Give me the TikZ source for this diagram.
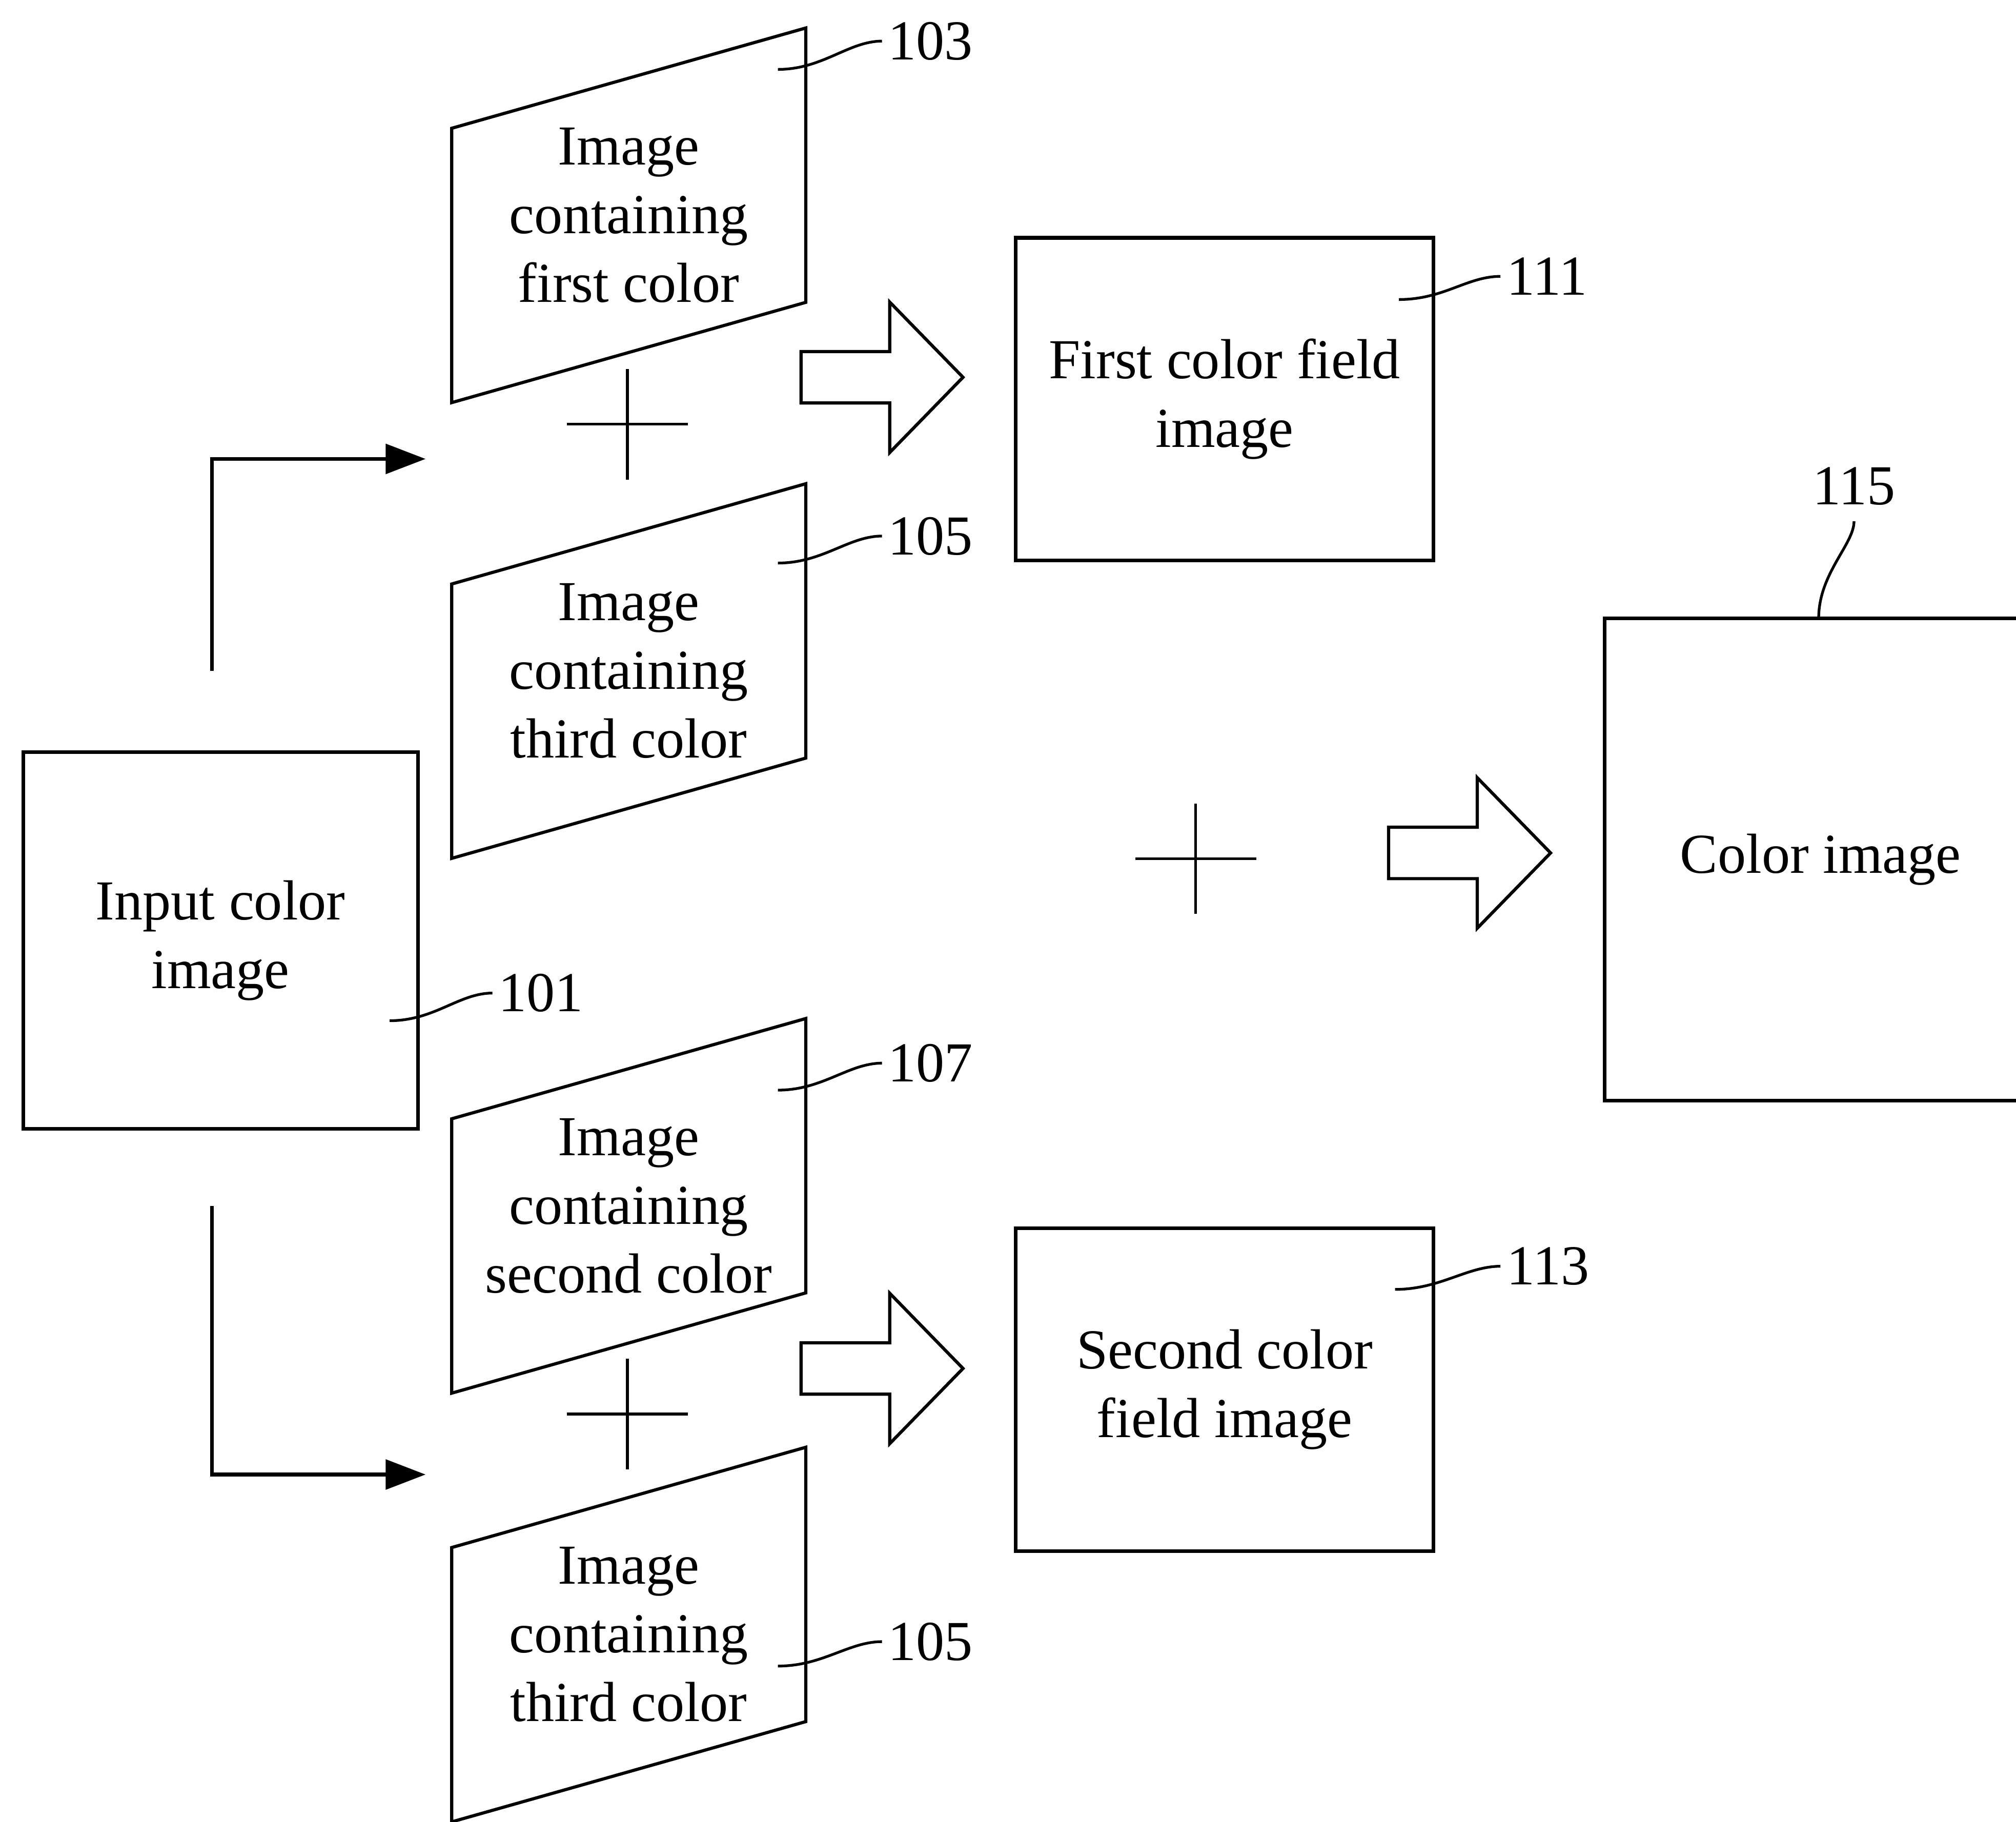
\documentclass[tikz,border=0pt]{standalone}
\usepackage{fontspec}
\setmainfont{Liberation Serif}
\usetikzlibrary{arrows.meta, positioning}
\tikzstyle{box} = [rectangle, draw=black, line width=0.8pt, align=center, inner sep=0pt]
\tikzstyle{plate} = [rectangle, align=center, minimum width=2.74cm, minimum height=2.12cm, inner sep=0pt]
\tikzstyle{outline} = [draw=black, line width=0.7pt, line join=miter]
\tikzstyle{numlabel} = [inner sep=0pt, anchor=west]
\tikzstyle{leader} = [line width=0.6pt, shorten >=0.4mm]
\tikzstyle{arrow} = [line width=0.8pt, -{Triangle[length=3.1mm,width=2.3mm]}]

% slanted frame round a plate node
\newcommand{\slantframe}[1]{%
  \draw [outline] ([yshift=-3.9mm]#1.south west) -- ([yshift=-3.9mm]#1.north west)
    -- ([yshift=3.9mm]#1.north east) -- ([yshift=3.9mm]#1.south east) -- cycle;}

\tikzset{
  plussign/.pic={\draw [line width=0.6pt] (-0.47,0) -- (0.47,0) (0,-0.43) -- (0,0.43);},
  fatarrow/.pic={\draw [outline] (0,-0.2) -- (0.69,-0.2) -- (0.69,-0.585) -- (1.26,0)
    -- (0.69,0.585) -- (0.69,0.2) -- (0,0.2) -- cycle;}
}

\begin{document}
\begin{tikzpicture}[font=\fontsize{12.5}{15.2}\selectfont]
\path [use as bounding box, clip] (0,0) rectangle (15.68,14.17);

% Input image
\node (in) [box, minimum width=3.07cm, minimum height=2.93cm] at (1.715,6.855) {Input color\\image};

% Split images
\node (first) [plate] at (4.89,12.495) {Image\\containing\\first color};
\node (thirdA) [plate] at (4.89,8.95) {Image\\containing\\third color};
\node (second) [plate] at (4.89,4.79) {Image\\containing\\second color};
\node (thirdB) [plate] at (4.89,1.455) {Image\\containing\\third color};
\slantframe{first}
\slantframe{thirdA}
\slantframe{second}
\slantframe{thirdB}

% Color field images
\node (field1) [box, minimum width=3.25cm, minimum height=2.51cm] at (9.525,11.065) {First color field\\image};
\node (field2) [box, minimum width=3.25cm, minimum height=2.51cm] at (9.525,3.36) {Second color\\field image};
\node (out) [box, minimum width=3.36cm, minimum height=3.75cm] at (14.16,7.485) {Color image};

% Plus signs and fat arrows
\pic at (4.88,10.87) {plussign};
\pic at (4.88,3.17) {plussign};
\pic at (9.30,7.49) {plussign};
\pic at (6.23,11.235) {fatarrow};
\pic at (6.23,3.525) {fatarrow};
\pic at (10.80,7.535) {fatarrow};

% Split arrows
\coordinate (upS) at (1.65,8.95);
\coordinate (upE) at (3.31,10.60);
\coordinate (dnS) at (1.65,4.79);
\coordinate (dnE) at (3.31,2.70);
\draw [arrow] (upS) |- (upE);
\draw [arrow] (dnS) |- (dnE);

% Reference numerals
\node (l101) [numlabel] at (3.87,6.445) {101};
\node (l103) [numlabel] at (6.90,13.85) {103};
\node (l105a) [numlabel] at (6.90,10.0) {105};
\node (l107) [numlabel] at (6.90,5.90) {107};
\node (l105b) [numlabel] at (6.90,1.40) {105};
\node (l111) [numlabel] at (11.71,12.02) {111};
\node (l113) [numlabel] at (11.71,4.32) {113};
\node (l115) [inner sep=0pt, anchor=south] at (14.42,10.235) {115};

\coordinate (s101) at (3.03,6.23);
\coordinate (s103) at (6.05,13.63);
\coordinate (s105a) at (6.05,9.79);
\coordinate (s107) at (6.05,5.69);
\coordinate (s105b) at (6.05,1.21);
\coordinate (s111) at (10.88,11.84);
\coordinate (s113) at (10.85,4.14);
\coordinate (s115) at (14.145,9.36);

\draw [leader] (s101) .. controls +(0.35,0) and +(-0.3,0) .. (l101.west);
\draw [leader] (s103) .. controls +(0.35,0) and +(-0.3,0) .. (l103.west);
\draw [leader] (s105a) .. controls +(0.35,0) and +(-0.3,0) .. (l105a.west);
\draw [leader] (s107) .. controls +(0.35,0) and +(-0.3,0) .. (l107.west);
\draw [leader] (s105b) .. controls +(0.35,0) and +(-0.3,0) .. (l105b.west);
\draw [leader] (s111) .. controls +(0.35,0) and +(-0.3,0) .. (l111.west);
\draw [leader] (s113) .. controls +(0.35,0) and +(-0.3,0) .. (l113.west);
\draw [leader, shorten >=1.2mm] (s115) .. controls +(0,0.35) and +(0,-0.3) .. (l115.south);

\end{tikzpicture}
\end{document}
